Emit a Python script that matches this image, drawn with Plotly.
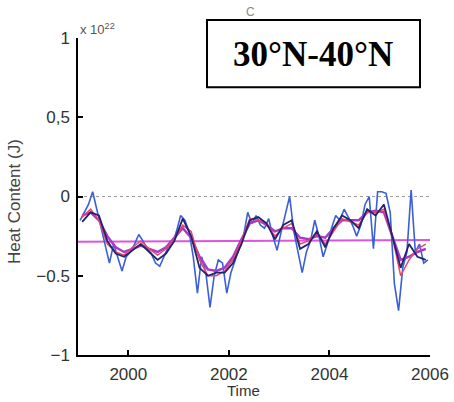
import plotly.graph_objects as go

# Monthly (blue) series, 1999-2006
blue_vals = [-0.15, -0.10, -0.05, 0.03, -0.08, -0.20, -0.30, -0.42, -0.30, -0.38, -0.47, -0.38,
             -0.35, -0.30, -0.24, -0.28, -0.33, -0.36, -0.42, -0.44, -0.38, -0.32, -0.30, -0.22,
             -0.12, -0.15, -0.22, -0.38, -0.61, -0.38, -0.48, -0.70, -0.50, -0.40, -0.42, -0.61,
             -0.48, -0.40, -0.33, -0.25, -0.10, -0.17, -0.12, -0.18, -0.20, -0.14, -0.25, -0.34,
             -0.22, -0.10, 0.00, -0.22, -0.35, -0.48, -0.35, -0.28, -0.15, -0.25, -0.38, -0.30,
             -0.20, -0.12, -0.15, -0.08, -0.13, -0.18, -0.25, -0.18, -0.05, 0.00, -0.33, 0.03,
             0.03, 0.02, -0.10, -0.55, -0.72, -0.45, -0.35, 0.04, -0.35, -0.30, -0.42, -0.40]
blue_t = [1999 + (i + 0.5) / 12 for i in range(len(blue_vals))]

# Bi-monthly smoother series
navy_vals = [-0.16, -0.10, -0.12, -0.28, -0.36, -0.38, -0.34, -0.30, -0.35, -0.40, -0.36, -0.28,
             -0.14, -0.25, -0.45, -0.50, -0.48, -0.48, -0.42, -0.30, -0.15, -0.13, -0.17, -0.27,
             -0.18, -0.15, -0.33, -0.30, -0.22, -0.32, -0.20, -0.12, -0.15, -0.20, -0.08, -0.12,
             -0.05, -0.25, -0.45, -0.30, -0.38, -0.40]
red_vals = [-0.13, -0.08, -0.15, -0.30, -0.35, -0.37, -0.32, -0.28, -0.33, -0.37, -0.33, -0.27,
            -0.18, -0.22, -0.40, -0.50, -0.50, -0.47, -0.40, -0.28, -0.14, -0.15, -0.17, -0.25,
            -0.20, -0.17, -0.30, -0.28, -0.23, -0.30, -0.22, -0.14, -0.16, -0.18, -0.10, -0.10,
            -0.08, -0.25, -0.50, -0.40, -0.33, -0.30]
purple_vals = [-0.12, -0.10, -0.15, -0.25, -0.32, -0.35, -0.33, -0.31, -0.33, -0.35, -0.32, -0.26,
               -0.20, -0.26, -0.38, -0.46, -0.47, -0.45, -0.38, -0.27, -0.17, -0.15, -0.18, -0.22,
               -0.20, -0.20, -0.26, -0.27, -0.25, -0.26, -0.20, -0.15, -0.15, -0.15, -0.10, -0.09,
               -0.10, -0.25, -0.40, -0.38, -0.35, -0.33]
smooth_t = [1999 + (2 * k + 1) / 12 for k in range(len(navy_vals))]

trend_t = [1999, 2006]
trend_vals = [-0.285, -0.275]

x_ticks = [2000, 2002, 2004, 2006]
y_ticks = [-1, -0.5, 0, 0.5, 1]
y_ticktext = ["\u22121", "\u22120.5", "0", "0,5", "1"]

fig = go.Figure()
fig.add_trace(go.Scatter(x=trend_t, y=trend_vals, mode="lines",
                         line=dict(color="#dd55dd", width=2), showlegend=False))
fig.add_trace(go.Scatter(x=blue_t, y=blue_vals, mode="lines",
                         line=dict(color="#3a5fd8", width=1.6), showlegend=False))
fig.add_trace(go.Scatter(x=smooth_t, y=purple_vals, mode="lines",
                         line=dict(color="#a43cc8", width=2.5), showlegend=False))
fig.add_trace(go.Scatter(x=smooth_t, y=red_vals, mode="lines",
                         line=dict(color="#e8466e", width=1.5), showlegend=False))
fig.add_trace(go.Scatter(x=smooth_t, y=navy_vals, mode="lines",
                         line=dict(color="#23236e", width=1.8), showlegend=False))

fig.add_shape(type="line", xref="paper", x0=0, x1=1, yref="y", y0=0, y1=0,
              line=dict(color="#999999", width=1, dash="dot"), layer="below")
fig.add_shape(type="rect", xref="paper", yref="paper", x0=0.3665, x1=0.9716, y0=0.845, y1=1.057,
              line=dict(color="black", width=2), fillcolor="white")

fig.add_annotation(text="<b>30°N-40°N</b>", xref="paper", yref="paper", x=0.668, y=0.948,
                   xanchor="center", yanchor="middle", showarrow=False,
                   font=dict(family="Liberation Serif", size=35, color="black"))
fig.add_annotation(text="x 10<sup>22</sup>", xref="paper", yref="paper", x=0.0, y=0.998,
                   xanchor="left", yanchor="bottom", showarrow=False,
                   font=dict(family="Liberation Sans", size=13, color="#555555"))
fig.add_annotation(text="C", xref="paper", yref="paper", x=0.49, y=1.082,
                   xanchor="center", yanchor="middle", showarrow=False,
                   font=dict(family="Liberation Sans", size=12, color="#888888"))
fig.add_annotation(text="Heat Content (J)", xref="paper", yref="paper", x=-0.179, y=0.486,
                   xanchor="center", yanchor="middle", textangle=-90, showarrow=False,
                   font=dict(family="Liberation Sans", size=17, color="#444444"))
fig.add_annotation(text="Time", xref="paper", yref="paper", x=0.469, y=-0.113,
                   xanchor="center", yanchor="middle",
                   showarrow=False, font=dict(family="Liberation Sans", size=15, color="#333333"))

fig.update_layout(
    width=454, height=402,
    margin=dict(l=78, r=24, t=38, b=47),
    paper_bgcolor="white", plot_bgcolor="white",
    font=dict(family="Liberation Sans", size=17, color="#333333"),
)
fig.update_xaxes(range=[1999, 2006], tickvals=x_ticks, ticktext=[str(v) for v in x_ticks],
                 showgrid=False, zeroline=False, showline=True, linecolor="black", linewidth=1.5,
                 ticks="inside", ticklen=5, tickcolor="black", tickwidth=1.5,
                 ticklabelstandoff=3, automargin=False)
fig.update_yaxes(range=[-1, 1], tickvals=y_ticks, ticktext=y_ticktext,
                 showgrid=False, zeroline=False, showline=True, linecolor="black", linewidth=1.5,
                 ticks="inside", ticklen=5, tickcolor="black", tickwidth=1.5,
                 ticklabelstandoff=3, automargin=False)

fig.write_html("out.html", config={"displayModeBar": False},
               post_script="document.body.style.margin='0';document.body.style.overflow='hidden';")
